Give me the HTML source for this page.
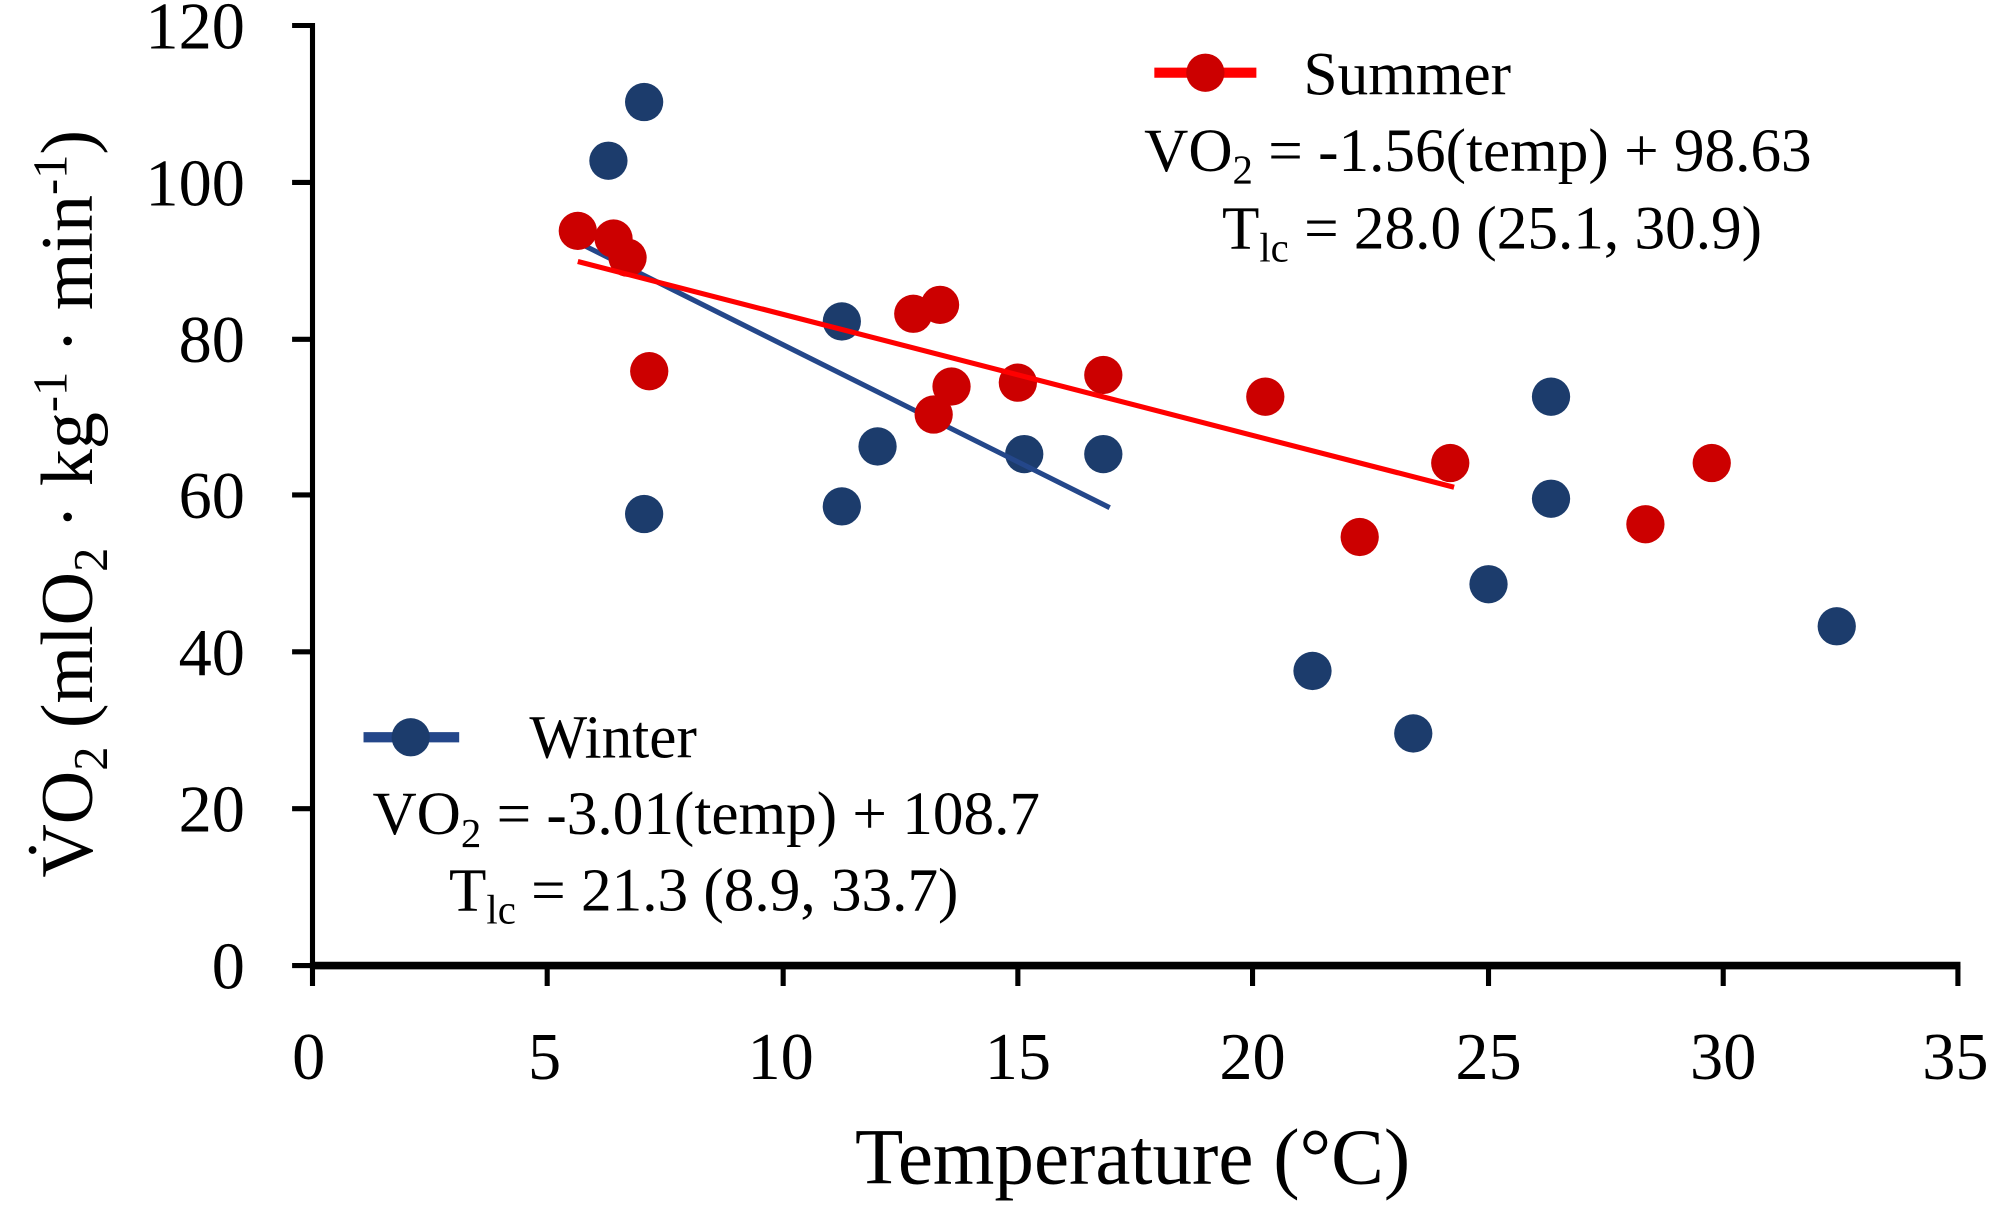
<!DOCTYPE html>
<html><head><meta charset="utf-8"><style>html,body{margin:0;padding:0;background:#fff}svg{display:block}</style></head>
<body>
<svg width="2000" height="1211" viewBox="0 0 1568 949.4" preserveAspectRatio="none" font-family="Liberation Serif, serif" fill="#000">
<g stroke="#000" stroke-width="4">
<line x1="245" y1="18" x2="245" y2="759"/>
<line x1="243" y1="757" x2="1537" y2="757" stroke-width="6"/>
<line x1="229" y1="20" x2="245" y2="20"/><line x1="229" y1="143" x2="245" y2="143"/><line x1="229" y1="266" x2="245" y2="266"/><line x1="229" y1="388" x2="245" y2="388"/><line x1="229" y1="511" x2="245" y2="511"/><line x1="229" y1="634" x2="245" y2="634"/><line x1="229" y1="757" x2="245" y2="757"/>
<line x1="245" y1="757" x2="245" y2="773"/><line x1="429" y1="757" x2="429" y2="773"/><line x1="614" y1="757" x2="614" y2="773"/><line x1="798" y1="757" x2="798" y2="773"/><line x1="982" y1="757" x2="982" y2="773"/><line x1="1167" y1="757" x2="1167" y2="773"/><line x1="1351" y1="757" x2="1351" y2="773"/><line x1="1535" y1="757" x2="1535" y2="773"/>
</g>
<g font-size="52" text-anchor="end">
<text x="192" y="38">120</text><text x="192" y="161">100</text><text x="192" y="284">80</text><text x="192" y="406">60</text><text x="192" y="529">40</text><text x="192" y="652">20</text><text x="192" y="775">0</text>
</g>
<g font-size="52" text-anchor="middle">
<text x="242" y="846">0</text><text x="427" y="846">5</text><text x="612" y="846">10</text><text x="798" y="846">15</text><text x="982" y="846">20</text><text x="1167" y="846">25</text><text x="1351" y="846">30</text><text x="1533" y="846">35</text>
</g>
<text x="888" y="928" font-size="62" text-anchor="middle">Temperature (°C)</text>
<text transform="translate(72,395) rotate(-90)" font-size="58" text-anchor="middle">V̇O<tspan font-size="38" dy="12">2</tspan><tspan dy="-12"> (mlO</tspan><tspan font-size="38" dy="12">2</tspan><tspan dy="-12"> · kg</tspan><tspan font-size="38" dy="-20">-1</tspan><tspan dy="20"> · min</tspan><tspan font-size="38" dy="-20">-1</tspan><tspan dy="20">)</tspan></text>
<g fill="#1c3c6c">
<circle cx="505" cy="80" r="15"/><circle cx="477" cy="126" r="15"/><circle cx="505" cy="403" r="15"/><circle cx="660" cy="252" r="15"/><circle cx="660" cy="397" r="15"/><circle cx="688" cy="350" r="15"/><circle cx="803" cy="356" r="15"/><circle cx="865" cy="356" r="15"/><circle cx="1216" cy="311" r="15"/><circle cx="1216" cy="391" r="15"/><circle cx="1167" cy="458" r="15"/><circle cx="1029" cy="526" r="15"/><circle cx="1108" cy="575" r="15"/><circle cx="1440" cy="491" r="15"/>
</g>
<line x1="453" y1="190" x2="870" y2="398" stroke="#24478a" stroke-width="4"/>
<g fill="#cc0000">
<circle cx="453" cy="181" r="15"/><circle cx="481" cy="187" r="15"/><circle cx="492" cy="202" r="15"/><circle cx="509" cy="291" r="15"/><circle cx="716" cy="246" r="15"/><circle cx="737" cy="239" r="15"/><circle cx="732" cy="325" r="15"/><circle cx="746" cy="303" r="15"/><circle cx="798" cy="300" r="15"/><circle cx="865" cy="294" r="15"/><circle cx="992" cy="311" r="15"/><circle cx="1066" cy="421" r="15"/><circle cx="1137" cy="363" r="15"/><circle cx="1290" cy="411" r="15"/><circle cx="1342" cy="363" r="15"/>
</g>
<line x1="453" y1="205" x2="1140" y2="382" stroke="#ff0000" stroke-width="4"/>
<line x1="905" y1="57" x2="985" y2="57" stroke="#ff0000" stroke-width="8"/><circle cx="945" cy="57" r="15" fill="#cc0000"/>
<text x="1022" y="74" font-size="48">Summer</text>
<text x="897" y="134" font-size="48">VO<tspan font-size="32" dy="10">2</tspan><tspan dy="-10"> = -1.56(temp) + 98.63</tspan></text>
<text x="958" y="195" font-size="48">T<tspan font-size="32" dy="10">lc</tspan><tspan dy="-10"> = 28.0 (25.1, 30.9)</tspan></text>
<line x1="285" y1="578" x2="360" y2="578" stroke="#24478a" stroke-width="8"/><circle cx="322" cy="578" r="15" fill="#1c3c6c"/>
<text x="415" y="594" font-size="48">Winter</text>
<text x="292" y="654" font-size="48">VO<tspan font-size="32" dy="10">2</tspan><tspan dy="-10"> = -3.01(temp) + 108.7</tspan></text>
<text x="352" y="714" font-size="48">T<tspan font-size="32" dy="10">lc</tspan><tspan dy="-10"> = 21.3 (8.9, 33.7)</tspan></text>
</svg>
</body></html>
